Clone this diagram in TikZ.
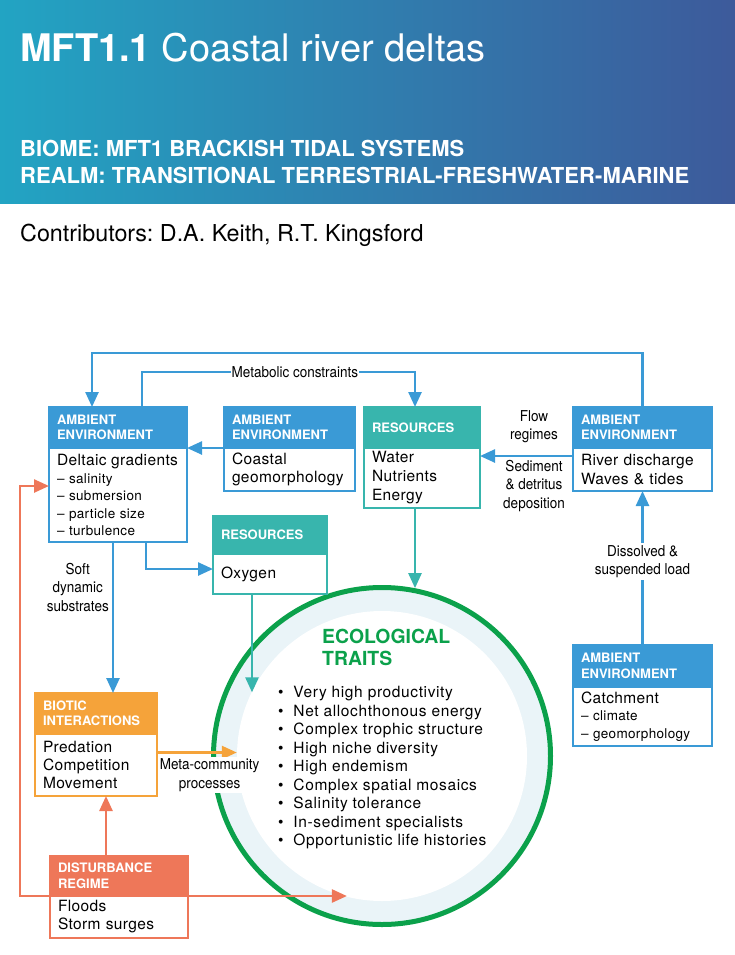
\documentclass[tikz,border=0pt]{standalone}
\usepackage{fontspec}
\setmainfont{TeX Gyre Heros}
\newfontfamily\narrowfont[FakeStretch=0.9]{TeX Gyre Heros}
\newfontfamily\bodyfont[LetterSpace=2.5]{TeX Gyre Heros}
\newfontfamily\listfont[LetterSpace=4]{TeX Gyre Heros}
\usetikzlibrary{positioning, arrows.meta}

\definecolor{ambient}{HTML}{3A9AD6}
\definecolor{resource}{HTML}{38B5AD}
\definecolor{biotic}{HTML}{F5A33A}
\definecolor{disturb}{HTML}{EE7759}
\definecolor{ecogreen}{HTML}{0BA14B}
\definecolor{ringblue}{HTML}{EAF4F8}
\definecolor{hdleft}{HTML}{22A4C3}
\definecolor{hdright}{HTML}{3D5A9B}

\begin{document}
\frenchspacing
\begin{tikzpicture}[x=1pt, y=-1pt, node distance=0pt, >={Triangle[length=15pt, width=13pt]}]
  % Define styles
  \tikzstyle{head} = [rectangle, line width=2.5pt, outer sep=0pt, anchor=north west, align=left, inner xsep=8pt, inner ysep=0pt, minimum height=41pt, text=white, font=\fontsize{13}{15.5}\selectfont\bfseries]
  \tikzstyle{body} = [rectangle, line width=2.5pt, outer sep=0pt, fill=white, align=left, inner xsep=8pt, inner ysep=0pt, font=\bodyfont\fontsize{15.5}{18.5}\selectfont]
  \tikzstyle{ambhead} = [head, draw=ambient, fill=ambient]
  \tikzstyle{ambbody} = [body, draw=ambient]
  \tikzstyle{reshead} = [head, draw=resource, fill=resource]
  \tikzstyle{resbody} = [body, draw=resource]
  \tikzstyle{biohead} = [head, draw=biotic, fill=biotic]
  \tikzstyle{biobody} = [body, draw=biotic]
  \tikzstyle{disthead} = [head, draw=disturb, fill=disturb]
  \tikzstyle{distbody} = [body, draw=disturb]
  \tikzstyle{link} = [line width=2.5pt, ->]
  \tikzstyle{note} = [font=\narrowfont\fontsize{15}{18.5}\selectfont, text=black, align=center, fill=white, inner xsep=1pt, inner ysep=2pt]

  \useasboundingbox (0,0) rectangle (735,955);

  % Banner
  \shade[left color=hdleft, right color=hdright] (0,0) rectangle (735,203);
  \node[anchor=base west, inner sep=0pt, text=white, font=\fontsize{38}{42}\selectfont] (title) at (20,62) {\textbf{MFT1.1} Coastal river deltas};
  \node[anchor=base west, inner sep=0pt, text=white, font=\bfseries\fontsize{22}{26}\selectfont] (biome) at (20,157) {BIOME: MFT1 BRACKISH TIDAL SYSTEMS};
  \node[anchor=base west, inner sep=0pt, text=white, font=\bfseries\fontsize{22}{26}\selectfont] (realm) at (20,183) {REALM: TRANSITIONAL TERRESTRIAL-FRESHWATER-MARINE};
  \node[anchor=base west, inner sep=0pt, font=\fontsize{23.3}{27}\selectfont] (contrib) at (20,241) {Contributors: D.A. Keith, R.T. Kingsford};

  % Ecological traits
  \node[circle, draw=ecogreen, line width=5pt, fill=ringblue, minimum size=337pt, inner sep=0pt] (eco) at (382,756) {};
  \node[circle, fill=white, minimum size=290pt, inner sep=0pt] (ecoin) at (eco.center) {};
  \node[anchor=north west, inner sep=0pt, align=left, text=ecogreen, font=\fontsize{19.4}{22}\selectfont\bfseries] (ecotitle) at (322,629) {ECOLOGICAL\\TRAITS};
  \node[anchor=north west, inner sep=0pt, align=left, font=\listfont\fontsize{15.5}{18.5}\selectfont] (traits) at (278,686)
    {\textbullet\ \ Very high productivity\\
     \textbullet\ \ Net allochthonous energy\\
     \textbullet\ \ Complex trophic structure\\
     \textbullet\ \ High niche diversity\\
     \textbullet\ \ High endemism\\
     \textbullet\ \ Complex spatial mosaics\\
     \textbullet\ \ Salinity tolerance\\
     \textbullet\ \ In-sediment specialists\\
     \textbullet\ \ Opportunistic life histories};

  % Deltaic gradients
  \node[ambhead, text width=122pt] (ae1h) at (49,407) {AMBIENT\\ENVIRONMENT};
  \node[ambbody, below=of ae1h, text width=122pt, minimum height=94pt, font=\bodyfont\fontsize{13.5}{17.5}\selectfont] (ae1)
    {{\fontsize{15.5}{18}\selectfont Deltaic gradients}\\ \textendash\ salinity\\ \textendash\ submersion\\ \textendash\ particle size\\ \textendash\ turbulence};

  % Coastal geomorphology
  \node[ambhead, text width=115pt] (ae2h) at (224,407) {AMBIENT\\ENVIRONMENT};
  \node[ambbody, below=of ae2h, text width=115pt, minimum height=43pt] (ae2) {Coastal\\geomorphology};

  % Water, nutrients, energy
  \node[reshead, text width=100pt] (r1h) at (364,407) {RESOURCES};
  \node[resbody, below=of r1h, text width=100pt, minimum height=60pt, font=\bodyfont\fontsize{15.5}{19}\selectfont] (r1) {Water\\Nutrients\\Energy};

  % River discharge
  \node[ambhead, text width=123pt] (ae3h) at (573,407) {AMBIENT\\ENVIRONMENT};
  \node[ambbody, below=of ae3h, text width=123pt, minimum height=43pt] (ae3) {River discharge\\Waves \& tides};

  % Oxygen
  \node[reshead, text width=98pt, minimum height=38pt] (r2h) at (213,516) {RESOURCES};
  \node[resbody, below=of r2h, text width=98pt, minimum height=40pt] (r2) {Oxygen};

  % Biotic interactions
  \node[biohead, text width=106pt] (bih) at (35,693) {BIOTIC\\INTERACTIONS};
  \node[biobody, below=of bih, text width=106pt, minimum height=62pt, font=\bodyfont\fontsize{15.5}{18}\selectfont] (bi) {Predation\\Competition\\Movement};

  % Disturbance regime
  \node[disthead, text width=122pt, minimum height=40pt] (drh) at (50,856) {DISTURBANCE\\REGIME};
  \node[distbody, below=of drh, text width=122pt, minimum height=42pt, font=\bodyfont\fontsize{15.5}{18}\selectfont] (dr) {Floods\\Storm surges};

  % Catchment
  \node[ambhead, text width=123pt, minimum height=42pt] (ae4h) at (573,645) {AMBIENT\\ENVIRONMENT};
  \node[ambbody, below=of ae4h, text width=123pt, minimum height=59pt, font=\bodyfont\fontsize{13.5}{17.5}\selectfont] (ae4)
    {{\fontsize{15.5}{18}\selectfont Catchment}\\ \textendash\ climate\\ \textendash\ geomorphology};

  % Connections - ambient environment
  \draw[link, ambient] (ae3h.north) -- ++(0,-54) -| ([xshift=-26]ae1h.north);
  \draw[link, ambient] ([xshift=24]ae1h.north) -- ++(0,-35) -| node[note, pos=0.28] {Metabolic constraints} ([xshift=-7]r1h.north);
  \draw[link, ambient] (ae2h.south west) -- (ae1h.south east);
  \draw[link, ambient] ([yshift=-8]ae3h.south west) -- ([yshift=-8]ae3h.south west -| r1.east);
  \node[note, fill=none, above=3pt of ae3h.south west, xshift=-39pt, anchor=south] (flow) {Flow\\regimes};
  \node[note, fill=none, below=10pt of ae3h.south west, xshift=-39pt, anchor=north] (sed) {Sediment\\\& detritus\\deposition};
  \draw[link, ambient] (ae4h.north) -- node[note, pos=0.54] {Dissolved \&\\suspended load} (ae3.south);
  \draw[link, ambient] ([xshift=28]ae1.south) |- ([yshift=5]r2.west);
  \draw[link, ambient] ([xshift=-5]ae1.south) -- node[note, fill=none, left=2pt, pos=0.3] {Soft\\dynamic\\substrates} ([xshift=-5]ae1.south |- bih.north);

  % Connections - resources
  \draw[link, resource] ([xshift=-7]r1.south) -- ([xshift=-7]r1.south |- eco.79);
  \draw[link, resource] ([xshift=-18]r2.south) -- ([xshift=-18]r2.south |- ecoin.154);

  % Connections - biotic and disturbance
  \draw[link, biotic] ([yshift=12.5]bi.east) -- node[note, below=3pt, pos=0.66] {Meta-community\\processes} ([yshift=12.5]bi.east -| ecoin.west);
  \draw[link, disturb] ([xshift=-13]drh.north) -- ([xshift=-13]drh.north |- bi.south);
  \draw[link, disturb] (drh.south east) -- (drh.south east -| ecoin.256);
  \draw[link, disturb] (drh.south west) -- ++(-30,0) |- ([yshift=9]ae1.west);

\end{tikzpicture}
\end{document}
